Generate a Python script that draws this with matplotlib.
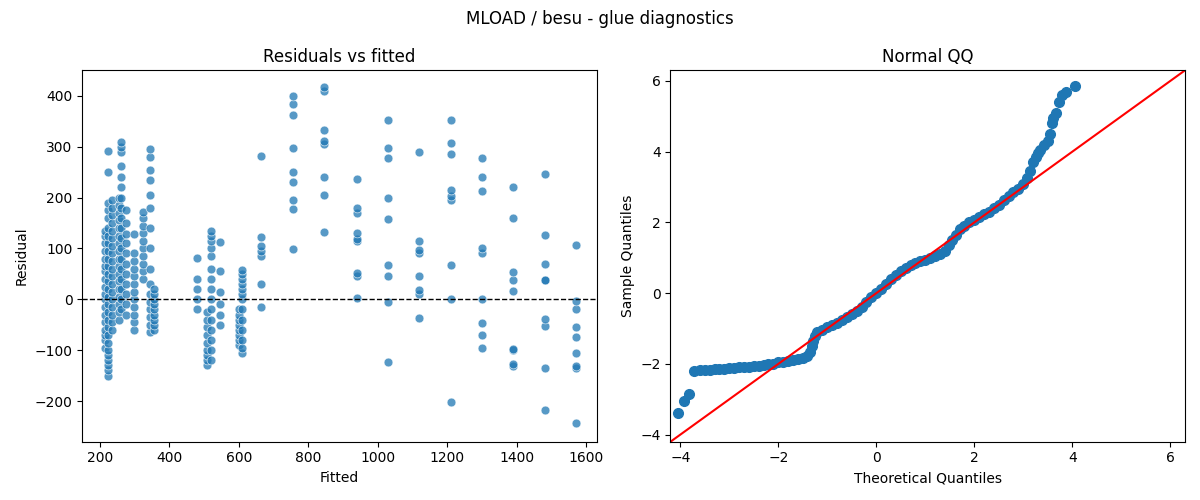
import matplotlib
matplotlib.use('Agg')
import numpy as np
import matplotlib.pyplot as plt
import seaborn as sns

# fitted value of each cluster and the residuals
fitted = [215, 225, 235, 255, 262, 275, 300, 325, 345, 355,
          480, 510, 520, 545, 600, 610, 665, 755, 845, 940,
          1030, 1120, 1210, 1300, 1390, 1480, 1570]
residuals = [
    [-95, -80, -70, -60, -45, -30, -15, 0, 10, 25, 40, 55, 65, 80, 95, 110, 125, 135],
    [-150, -140, -130, -120, -110, -100, -85, -70, -55, -40, -25, -10, 5, 20, 35, 50, 65, 80, 95, 110, 125, 140, 160, 175, 190, 250, 292],
    [-60, -45, -30, -15, 0, 15, 30, 45, 60, 75, 90, 105, 120, 135, 150, 165, 180, 195],
    [-40, -25, -10, 5, 20, 35, 50, 65, 80, 95, 110, 125, 140, 155, 170, 185, 200],
    [-20, 0, 20, 40, 60, 80, 100, 120, 140, 160, 180, 200, 220, 240, 262, 290, 300, 310],
    [-30, -10, 10, 30, 50, 70, 90, 110, 128, 150, 175],
    [-60, -45, -30, -15, 0, 15, 30, 45, 60, 75, 90, 128],
    [40, 55, 70, 85, 100, 115, 130, 145, 160, 172],
    [-65, -50, -35, -20, -5, 10, 30, 60, 100, 140, 180, 205, 235, 255, 280, 295],
    [-60, -50, -40, -30, -20, -10, 0, 10, 20],
    [-20, 0, 20, 40, 82],
    [-130, -120, -110, -100, -85, -70, -55, -40, -25],
    [-120, -100, -80, -60, -40, -20, 0, 20, 40, 60, 85, 100, 115, 125, 135],
    [-50, -30, -10, 15, 55, 112],
    [-90, -80, -70, -60, -50, -40, -30, -20],
    [-105, -95, -80, -60, -40, -20, 0, 10, 20, 30, 40, 50, 58],
    [-15, 30, 85, 95, 105, 123, 282],
    [98, 178, 195, 230, 250, 297, 363, 383, 400],
    [133, 205, 240, 305, 312, 333, 410, 418],
    [2, 45, 52, 115, 118, 130, 170, 180, 237],
    [-123, -5, 45, 68, 158, 200, 278, 298, 353],
    [-37, 10, 18, 45, 90, 97, 115, 290],
    [-202, 0, 67, 195, 203, 215, 285, 307, 353],
    [-95, -70, -47, 0, 90, 100, 212, 240, 277],
    [-132, -128, -100, -98, 17, 38, 53, 160, 220],
    [-218, -135, -52, -38, 37, 38, 70, 127, 247],
    [-243, -135, -132, -105, -75, -55, -20, -3, 107],
]

# normal QQ points (theoretical, sample)
qq_theo = [-4.05, -3.92, -3.82, -3.72, -3.6, -3.5, -3.4, -3.3, -3.2, -3.1, -3.0, -2.9, -2.8, -2.7,
           -2.6, -2.5, -2.4, -2.3, -2.2, -2.1, -2.0, -1.9, -1.8, -1.7, -1.6, -1.5, -1.42, -1.36,
           -1.32, -1.3, -1.26, -1.2, -1.1, -1.0, -0.9, -0.8, -0.7, -0.6, -0.5, -0.4, -0.3, -0.2,
           -0.1, 0.0, 0.1, 0.2, 0.3, 0.4, 0.5, 0.6, 0.7, 0.8, 0.9, 1.0, 1.1, 1.2, 1.3, 1.4, 1.48,
           1.55, 1.62, 1.7, 1.8, 1.9, 2.0, 2.1, 2.2, 2.3, 2.4, 2.5, 2.6, 2.7, 2.8, 2.9, 3.0, 3.08,
           3.14, 3.2, 3.25, 3.3, 3.35, 3.42, 3.5, 3.55, 3.58, 3.6, 3.66, 3.72, 3.78, 3.88, 4.05]
qq_samp = [-3.4, -3.05, -2.85, -2.2, -2.18, -2.17, -2.16, -2.15, -2.14, -2.13, -2.12, -2.11, -2.10,
           -2.09, -2.08, -2.07, -2.05, -2.03, -2.01, -1.99, -1.96, -1.94, -1.92, -1.90, -1.87, -1.84,
           -1.78, -1.65, -1.5, -1.35, -1.2, -1.1, -1.03, -0.96, -0.9, -0.83, -0.76, -0.68, -0.6,
           -0.5, -0.4, -0.25, -0.12, 0.0, 0.12, 0.27, 0.4, 0.52, 0.62, 0.72, 0.8, 0.86, 0.91, 0.95,
           1.0, 1.05, 1.12, 1.2, 1.35, 1.5, 1.65, 1.8, 1.9, 2.0, 2.08, 2.16, 2.23, 2.3, 2.4, 2.5,
           2.63, 2.75, 2.85, 2.95, 3.08, 3.25, 3.45, 3.7, 3.85, 3.95, 4.05, 4.2, 4.3, 4.5, 4.8,
           4.95, 5.1, 5.4, 5.6, 5.7, 5.85]

xs = np.concatenate([[f] * len(r) for f, r in zip(fitted, residuals)])
ys = np.concatenate(residuals)

fig, (ax1, ax2) = plt.subplots(1, 2, figsize=(12, 5))
fig.suptitle('MLOAD / besu - glue diagnostics')

sns.scatterplot(x=xs, y=ys, ax=ax1, alpha=0.75, s=40)
ax1.axhline(0, color='black', linestyle='--', linewidth=1)
ax1.set_title('Residuals vs fitted')
ax1.set_xlabel('Fitted')
ax1.set_ylabel('Residual')
ax1.set_xlim(150, 1630)
ax1.set_ylim(-280, 450)

ax2.plot(qq_theo, qq_samp, 'o', color='tab:blue', markersize=7)
ax2.set_xlim(-4.2, 6.3)
ax2.set_ylim(-4.2, 6.3)
ax2.plot([-4.2, 6.3], [-4.2, 6.3], color='red')
ax2.set_title('Normal QQ')
ax2.set_xlabel('Theoretical Quantiles')
ax2.set_ylabel('Sample Quantiles')

plt.tight_layout()
plt.savefig('out.png', dpi=100)
